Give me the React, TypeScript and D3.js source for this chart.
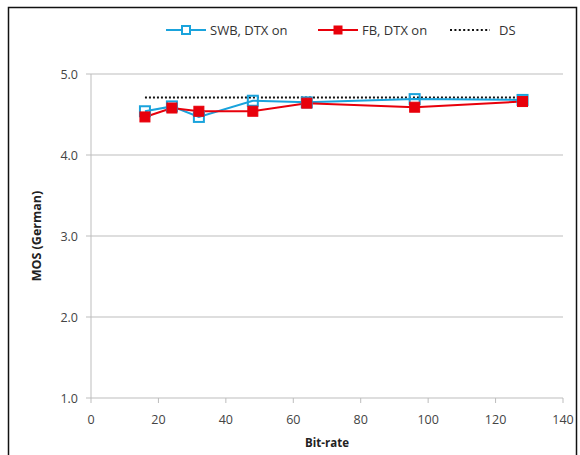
import React from "react";
import * as d3 from "d3";

const bitRates = [16, 24, 32, 48, 64, 96, 128];
const swb = [4.54, 4.6, 4.47, 4.67, 4.65, 4.69, 4.68];
const fb = [4.47, 4.58, 4.54, 4.54, 4.64, 4.59, 4.66];
const ds = [4.71, 4.71, 4.71, 4.71, 4.71, 4.71, 4.71];
const xTicks = [0, 20, 40, 60, 80, 100, 120, 140];
const yTicks = [1, 2, 3, 4, 5];

const BLUE = "#1aa3dc";
const RED = "#e8000b";
const FONT = "'Open Sans', 'Liberation Sans', sans-serif";

export default function App() {
  const x = d3.scaleLinear().domain([0, 140]).range([91, 563]);
  const y = d3.scaleLinear().domain([1, 5]).range([398, 74]);
  const line = d3
    .line<number>()
    .x((_, i) => x(bitRates[i]))
    .y((d) => y(d));
  const ms = 10;
  return (
    <svg
      width={580}
      height={455}
      style={{ position: "absolute", left: 0, top: 0, background: "#fff" }}
      fontFamily={FONT}
    >
      <rect x={0} y={0} width={580} height={455} fill="#fff" />
      <rect x={8.5} y={7.5} width={568} height={460} fill="none" stroke="#111" strokeWidth={1.5} />
      {yTicks.map((t) => (
        <g key={t}>
          <line x1={86} x2={563} y1={y(t)} y2={y(t)} stroke="#bdbdbd" strokeWidth={1} />
          <text x={78} y={y(t) + 4.5} textAnchor="end" fontSize={12.5} fill="#444">
            {t.toFixed(1)}
          </text>
        </g>
      ))}
      <line x1={x(0)} x2={x(0)} y1={y(5)} y2={y(1)} stroke="#bdbdbd" />
      {xTicks.map((t) => (
        <g key={t}>
          <line x1={x(t)} x2={x(t)} y1={y(1)} y2={y(1) + 5} stroke="#bdbdbd" />
          <text x={x(t)} y={424} textAnchor="middle" fontSize={12.5} fill="#444">
            {t}
          </text>
        </g>
      ))}
      <text
        transform={`translate(41,${y(3)}) rotate(-90)`}
        textAnchor="middle"
        fontSize={12.5}
        fontWeight="bold"
        fill="#222"
      >
        MOS (German)
      </text>
      <text x={327} y={447} textAnchor="middle" fontSize={11.5} fontWeight="bold" fill="#222">
        Bit-rate
      </text>
      <path d={line(ds) || ""} fill="none" stroke="#111" strokeWidth={2} strokeDasharray="2,2" />
      <path d={line(swb) || ""} fill="none" stroke={BLUE} strokeWidth={2} />
      <path d={line(fb) || ""} fill="none" stroke={RED} strokeWidth={2} />
      {swb.map((v, i) => (
        <rect
          key={"s" + i}
          x={x(bitRates[i]) - ms / 2}
          y={y(v) - ms / 2}
          width={ms}
          height={ms}
          fill="none"
          stroke={BLUE}
          strokeWidth={2}
        />
      ))}
      {fb.map((v, i) => (
        <rect
          key={"f" + i}
          x={x(bitRates[i]) - ms / 2}
          y={y(v) - ms / 2}
          width={ms}
          height={ms}
          fill={RED}
          stroke={RED}
          strokeWidth={1}
        />
      ))}
      {/* legend */}
      <g fontSize={13} fill="#333">
        <line x1={166} x2={206} y1={30} y2={30} stroke={BLUE} strokeWidth={2} />
        <rect x={182} y={26} width={8} height={8} fill="#fff" stroke={BLUE} strokeWidth={2} />
        <text x={210} y={34.5}>SWB, DTX on</text>
        <line x1={318} x2={358} y1={30} y2={30} stroke={RED} strokeWidth={2} />
        <rect x={334} y={26} width={8} height={8} fill={RED} stroke={RED} />
        <text x={362} y={34.5}>FB, DTX on</text>
        <line x1={450} x2={490} y1={30} y2={30} stroke="#111" strokeWidth={2} strokeDasharray="2,2.4" />
        <text x={499} y={34.5}>DS</text>
      </g>
    </svg>
  );
}
